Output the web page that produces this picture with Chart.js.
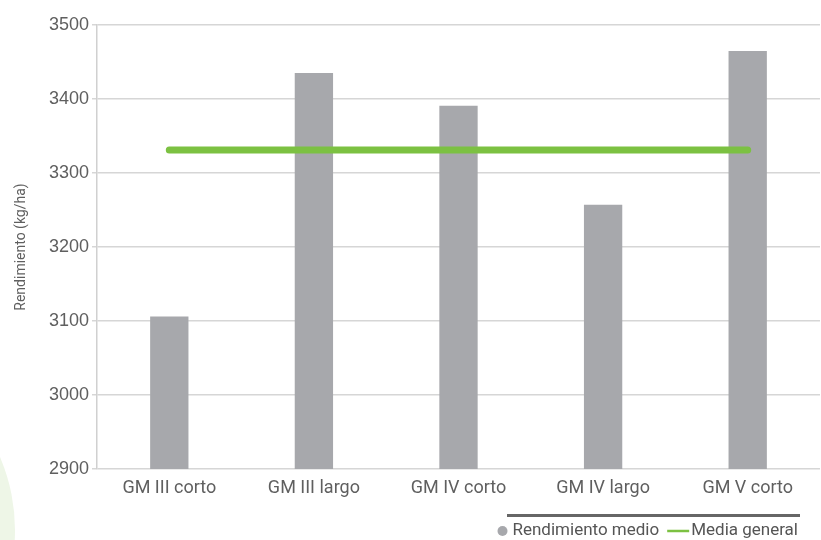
<!DOCTYPE html>
<html>
<head>
<meta charset="utf-8">
<script src="https://cdn.jsdelivr.net/npm/chart.js@4.4.0/dist/chart.umd.min.js"></script>
<style>
  html, body { margin: 0; padding: 0; background: #fff; }
  #wrap { width: 821px; height: 540px; }
</style>
</head>
<body>
<div id="wrap"><canvas id="rendChart"></canvas></div>
<script>
// data
var categories = ['GM III corto', 'GM III largo', 'GM IV corto', 'GM IV largo', 'GM V corto'];
var rendimiento = [3106, 3435, 3391, 3257, 3465];
var mediaGeneral = [3331, 3331, 3331, 3331, 3331];
var yMin = 2900, yMax = 3500, yStep = 100;

var narrow = "Roboto, 'Liberation Sans', Arial, sans-serif";
var gris = '#a7a8ac';
var verde = '#7cc142';

// pale green shape in the lower left corner
var fondo = {
  id: 'fondo',
  beforeDraw: function (chart) {
    var ctx = chart.ctx;
    ctx.save();
    ctx.fillStyle = '#eef6e7';
    ctx.beginPath();
    ctx.arc(-170, 530, 185, 0, Math.PI * 2);
    ctx.fill();
    ctx.restore();
  }
};

// legend with the dark rule above it
var leyenda = {
  id: 'leyenda',
  afterDraw: function (chart) {
    var ctx = chart.ctx;
    var ds = chart.data.datasets;
    ctx.save();
    ctx.strokeStyle = '#666';
    ctx.lineWidth = 3;
    ctx.beginPath();
    ctx.moveTo(507, 515.5);
    ctx.lineTo(800, 515.5);
    ctx.stroke();

    ctx.font = '17px ' + narrow;
    ctx.textBaseline = 'middle';
    var y = 531;
    var w0 = ctx.measureText(ds[0].label).width;
    var w1 = ctx.measureText(ds[1].label).width;
    // lay it out from the right end
    var x = 798 - w1 - 24 - 8 - w0 - 15;
    ctx.beginPath();
    ctx.arc(x + 5, y, 5, 0, Math.PI * 2);
    ctx.fillStyle = ds[0].backgroundColor;
    ctx.fill();
    x += 15;
    ctx.fillStyle = '#555';
    ctx.fillText(ds[0].label, x, y);
    x += w0 + 8;
    ctx.strokeStyle = ds[1].borderColor;
    ctx.lineWidth = 2.5;
    ctx.beginPath();
    ctx.moveTo(x, y);
    ctx.lineTo(x + 22, y);
    ctx.stroke();
    x += 24;
    ctx.fillText(ds[1].label, x, y);
    ctx.restore();
  }
};

var myChart = new Chart(document.getElementById('rendChart'), {
  type: 'bar',
  data: {
    labels: categories,
    datasets: [{
      label: 'Rendimiento medio',
      data: rendimiento,
      backgroundColor: gris,
      categoryPercentage: 1,
      barPercentage: 0.265,
      order: 2
    }, {
      type: 'line',
      label: 'Media general',
      data: mediaGeneral,
      borderColor: verde,
      borderWidth: 7,
      borderCapStyle: 'round',
      pointRadius: 0,
      fill: false,
      order: 1
    }]
  },
  options: {
    responsive: true,
    maintainAspectRatio: false,
    animation: false,
    layout: {
      padding: { top: 25, right: 1, bottom: 31, left: 0 }
    },
    plugins: {
      legend: { display: false },
      tooltip: { enabled: false }
    },
    scales: {
      x: {
        grid: { display: false, drawTicks: false },
        border: { display: false },
        ticks: {
          padding: 9,
          color: '#5f5f5f',
          font: { family: narrow, size: 18 }
        },
        afterFit: function (scale) { scale.height = 40; }
      },
      y: {
        min: yMin,
        max: yMax,
        grid: {
          color: '#d6d6d6',
          lineWidth: 1.5,
          tickLength: 5
        },
        border: { display: true, color: '#d0d0d0', width: 1.5 },
        ticks: {
          stepSize: yStep,
          padding: 3,
          color: '#5f5f5f',
          font: { family: "'Liberation Sans', Arial, sans-serif", size: 18 },
          callback: function (v) { return String(v); }
        },
        title: {
          display: true,
          text: 'Rendimiento (kg/ha)',
          color: '#5f5f5f',
          font: { family: narrow, size: 14 },
          padding: { top: 13, bottom: 0 }
        },
        afterFit: function (scale) { scale.width = 97; }
      }
    }
  },
  plugins: [fondo, leyenda]
});
</script>
</body>
</html>
